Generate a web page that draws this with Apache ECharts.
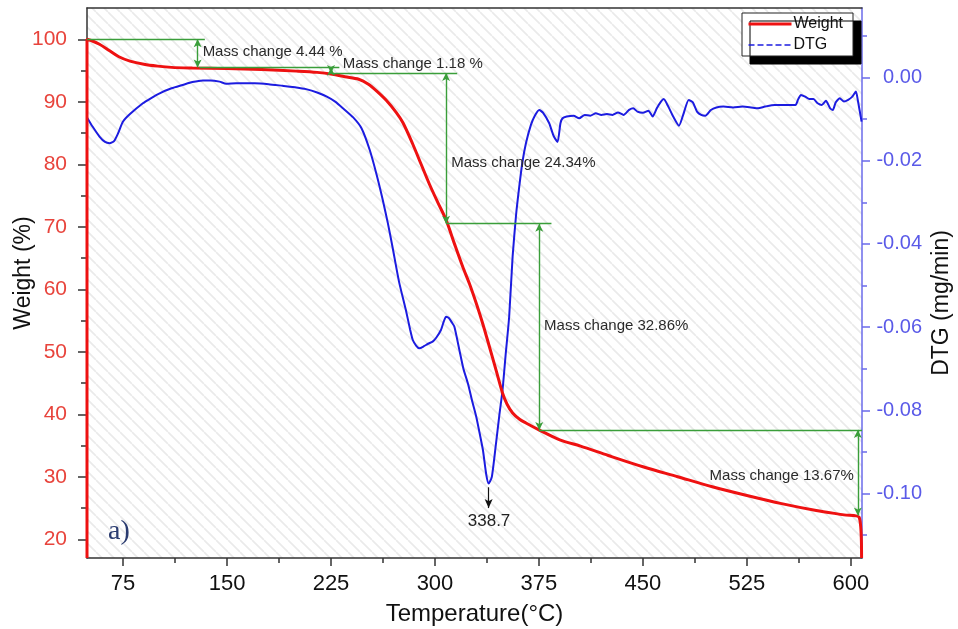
<!DOCTYPE html>
<html>
<head>
<meta charset="utf-8">
<title>TGA / DTG</title>
<script src="https://cdn.jsdelivr.net/npm/echarts@6/dist/echarts.min.js"></script>
<style>html,body{margin:0;padding:0;background:#fff;}</style>
</head>
<body>
<div id="main" style="width:958px;height:629px;"></div>
<script type="text/javascript">
// axis ticks
var tempTicks = [75, 150, 225, 300, 375, 450, 525, 600];
var tempMinor = [112.5, 187.5, 262.5, 337.5, 412.5, 487.5, 562.5];
var weightTicks = [20, 30, 40, 50, 60, 70, 80, 90, 100];
var weightMinor = [25, 35, 45, 55, 65, 75, 85, 95];
var dtgTicks = [0, -0.02, -0.04, -0.06, -0.08, -0.10];
var dtgMinor = [0.01, -0.01, -0.03, -0.05, -0.07, -0.09, -0.11];

// weight (%) vs temperature
var weightData = [
    [49, 17], [49, 100], [52, 99.8], [58, 99.2], [65, 98.2], [72, 97.2], [80, 96.5],
    [90, 96.0], [100, 95.7], [110, 95.5], [125, 95.4], [150, 95.3], [175, 95.15],
    [200, 94.9], [215, 94.7], [226, 94.4], [235, 94.0], [245, 93.6], [252, 92.8],
    [258, 91.7], [265, 90.2], [272, 88.3], [277, 86.6], [284, 83.2], [290, 80.0],
    [296, 76.8], [302, 73.9], [308, 71.1], [314, 67.3], [320, 63.6], [325, 60.8],
    [330, 57.6], [334.3, 54.6], [339, 51], [344, 47.1], [348.7, 43.4], [352, 41.6],
    [356, 40.2], [361, 39.2], [365.6, 38.6], [375, 37.5], [390, 35.9], [405, 34.9],
    [425, 33.4], [450, 31.6], [475, 30], [500, 28.4], [525, 27], [550, 25.7],
    [575, 24.6], [595, 23.9], [606, 23.5], [607.7, 17]
];

// DTG (mg/min) vs temperature
var dtgData = [
    [49, -0.0096], [53, -0.0118], [58, -0.0142], [62, -0.0155], [65.4, -0.0158],
    [68.5, -0.0153], [71.3, -0.0135], [75, -0.0106], [80, -0.0088], [89.3, -0.0062],
    [95, -0.0050], [101.4, -0.0038], [110, -0.0026], [118, -0.0018], [125, -0.0011],
    [132.6, -0.0007], [138, -0.0007], [144.6, -0.0010], [149.4, -0.0015], [156.6, -0.0014],
    [170, -0.0014], [180, -0.0016], [190, -0.0020], [200, -0.0024], [207, -0.0028],
    [215, -0.0036], [222, -0.0046], [228, -0.0058], [234, -0.0075], [241, -0.0096],
    [247, -0.0122], [253, -0.0175], [258, -0.0235], [262.3, -0.0294], [266, -0.0350],
    [269.5, -0.0410], [274, -0.0490], [279, -0.0559], [282, -0.0605], [284, -0.0631],
    [286.5, -0.0645], [288.7, -0.0651], [292, -0.0646], [295, -0.0640], [298.3, -0.0635],
    [301, -0.0625], [304.3, -0.0607], [306.5, -0.0585], [308, -0.0575], [310, -0.0578],
    [312, -0.0588], [314, -0.0599], [317.6, -0.0655], [320.5, -0.0700], [323.8, -0.0736],
    [327, -0.0780], [329.8, -0.0816], [332.5, -0.0860], [334.6, -0.0896], [337, -0.0955],
    [338.7, -0.0976], [341, -0.0960], [344, -0.0880], [346.3, -0.0815], [348.7, -0.0752],
    [351, -0.0665], [353.5, -0.0575], [356, -0.0430], [358.5, -0.0330], [360.8, -0.0262],
    [363, -0.0205], [365.6, -0.0158], [369.2, -0.0114], [372, -0.0092], [375.2, -0.0078],
    [378, -0.0085], [382.4, -0.0110], [385.5, -0.0140], [388.4, -0.0155], [390.5, -0.0110],
    [392, -0.0098], [395, -0.0094],
    [400, -0.0092], [404, -0.0098], [408, -0.0090], [412, -0.0092], [416, -0.0086],
    [420, -0.0090], [424, -0.0088], [428, -0.0090], [432, -0.0084], [436, -0.0090],
    [440, -0.0078], [443, -0.0074], [446, -0.0082], [450, -0.0085], [454, -0.0080],
    [457, -0.0094], [460, -0.0074], [463, -0.0058], [465, -0.0052], [468, -0.0068],
    [472, -0.0095], [476, -0.0116], [479, -0.0090], [483, -0.0054], [486, -0.0060],
    [489, -0.0082], [492, -0.0090], [495, -0.0092], [499, -0.0078], [503, -0.0072],
    [508, -0.0070], [515, -0.0072], [522, -0.0070], [528, -0.0072], [533, -0.0074],
    [538, -0.0070], [545, -0.0066], [552, -0.0066], [560, -0.0066], [562, -0.0052],
    [564, -0.0042], [567, -0.0046], [570, -0.0052], [573, -0.0052], [576, -0.0062],
    [579, -0.0066], [582, -0.0056], [585, -0.0074], [587, -0.0078], [589, -0.0060],
    [592, -0.0050], [595, -0.0058], [598, -0.0054], [601, -0.0046], [603.6, -0.0034],
    [605, -0.0055], [607.7, -0.0106]
];

// mass-change annotations (weight units)
var stepLines = [[49, 134, 100], [130, 231, 95.45], [226, 316, 94.6], [308, 384, 70.5], [375, 608, 37.5]]; // x1, x2, y
var stepArrows = [[128.8, 100, 95.5], [225, 95.45, 94.6], [308, 94.6, 70.5], [375.2, 70.5, 37.5], [605, 37.5, 23.8]]; // x, y1, y2
var stepLabels = [
    [132.4, 97.97, 'Mass change 4.44 %', 'right'],
    [233.4, 96.05, 'Mass change 1.18 %', 'right'],
    [311.7, 80.2, 'Mass change 24.34%', 'right'],
    [378.7, 54.1, 'Mass change 32.86%', 'right'],
    [602.1, 30.1, 'Mass change 13.67%', 'left']
];
var peakArrow = [338.7, -0.0985, -0.1035];
var peakLabel = [339, -0.1068, '338.7'];

// 斜线底纹
var hatch = document.createElement('canvas');
hatch.width = 12;
hatch.height = 12;
var hctx = hatch.getContext('2d');
hctx.strokeStyle = '#eaeaea';
hctx.lineWidth = 1.6;
hctx.beginPath();
[-12, 0, 12].forEach(function (k) {
    hctx.moveTo(0, k);
    hctx.lineTo(12, k + 12);
});
hctx.stroke();

var green = '#3a9e3a';
var markLines = [];
stepLines.forEach(function (s) {
    markLines.push([{coord: [s[0], s[2]], symbol: 'none'}, {coord: [s[1], s[2]], symbol: 'none'}]);
});
stepArrows.forEach(function (s) {
    markLines.push([{coord: [s[0], s[1]], symbol: 'arrow'}, {coord: [s[0], s[2]], symbol: 'arrow'}]);
});
var markPoints = stepLabels.map(function (s) {
    return {
        coord: [s[0], s[1]], symbol: 'circle', symbolSize: 0,
        label: {show: true, position: s[3], distance: 0, formatter: s[2], color: '#2a2a2a', fontSize: 15, fontFamily: 'Liberation Sans'}
    };
});

var myChart = echarts.init(document.getElementById('main'));

var axisDark = '#333';
var blueAxis = '#6b6bea';
var option = {
    animation: false,
    textStyle: {fontFamily: 'Liberation Sans, Arial, sans-serif'},
    grid: {
        left: 87, right: 96, top: 8, bottom: 71,
        outerBoundsMode: 'none',
        show: true, borderWidth: 0,
        backgroundColor: {image: hatch, repeat: 'repeat'}
    },
    legend: {
        left: 742, top: 13, orient: 'vertical',
        itemWidth: 43, itemHeight: 14, itemGap: 5,
        padding: [3, 10, 3, 5],
        backgroundColor: '#fff', borderColor: '#222', borderWidth: 1,
        shadowColor: '#000', shadowOffsetX: 8, shadowOffsetY: 8, shadowBlur: 0,
        textStyle: {fontSize: 16, color: '#111', padding: [0, 0, 0, -3]},
        itemStyle: {opacity: 0},
        data: [
            {name: 'Weight', lineStyle: {width: 3}},
            {name: 'DTG', lineStyle: {type: 'dashed', width: 1.5}}
        ]
    },
    xAxis: [{
        type: 'value', position: 'bottom', min: 49, max: 608,
        axisLine: {onZero: false, lineStyle: {color: axisDark, width: 1.5}},
        axisTick: {customValues: tempTicks, length: 8, lineStyle: {color: axisDark, width: 1.5}},
        axisLabel: {customValues: tempTicks, fontSize: 22, color: '#111', margin: 15},
        splitLine: {show: false},
        name: 'Temperature(°C)', nameLocation: 'middle', nameGap: 44, nameMoveOverlap: false,
        nameTextStyle: {fontSize: 24, color: '#111'}
    }, {
        type: 'value', position: 'bottom', min: 49, max: 608,
        axisLine: {show: false, onZero: false},
        axisTick: {customValues: tempMinor, length: 5, lineStyle: {color: axisDark, width: 1.5}},
        axisLabel: {show: false},
        splitLine: {show: false}
    }, {
        type: 'value', position: 'top', min: 49, max: 608,
        axisLine: {onZero: false, lineStyle: {color: axisDark, width: 1.5}},
        axisTick: {show: false}, axisLabel: {show: false}, splitLine: {show: false}
    }],
    yAxis: [{
        type: 'value', position: 'left', min: 17, max: 105,
        axisLine: {show: true, onZero: false, lineStyle: {color: axisDark, width: 1.5}},
        axisTick: {show: true, customValues: weightTicks, length: 9, lineStyle: {color: axisDark, width: 1.5}},
        axisLabel: {customValues: weightTicks, fontSize: 21, color: '#e8443c', margin: 20},
        splitLine: {show: false},
        name: 'Weight (%)', nameLocation: 'middle', nameGap: 52, nameRotate: 90, nameMoveOverlap: false,
        nameTextStyle: {fontSize: 23, color: '#111', padding: [0, 0, 0, 20]}
    }, {
        type: 'value', position: 'left', min: 17, max: 105,
        axisLine: {show: false, onZero: false},
        axisTick: {show: true, customValues: weightMinor, length: 6, lineStyle: {color: axisDark, width: 1.5}},
        axisLabel: {show: false}, splitLine: {show: false}
    }, {
        type: 'value', position: 'right', min: -0.1155, max: 0.0167,
        axisLine: {show: true, onZero: false, lineStyle: {color: blueAxis, width: 1.5}},
        axisTick: {show: true, customValues: dtgTicks, length: 8, lineStyle: {color: blueAxis, width: 1.5}},
        axisLabel: {
            customValues: dtgTicks, fontSize: 20, color: '#5a5ae8', margin: 60, align: 'right',
            formatter: function (v) { return (Math.abs(v) < 1e-9 ? 0 : v).toFixed(2); }
        },
        splitLine: {show: false},
        name: 'DTG (mg/min)', nameLocation: 'middle', nameGap: 68, nameRotate: 90, nameMoveOverlap: false,
        nameTextStyle: {fontSize: 23, color: '#111', padding: [0, 40, 0, 0]}
    }, {
        type: 'value', position: 'right', min: -0.1155, max: 0.0167,
        axisLine: {show: false, onZero: false},
        axisTick: {show: true, customValues: dtgMinor, length: 5, lineStyle: {color: blueAxis, width: 1.5}},
        axisLabel: {show: false}, splitLine: {show: false}
    }],
    graphic: [{
        type: 'text', left: 108, top: 518,
        style: {text: 'a)', font: '28px "Liberation Serif"', fill: '#2b3c70'}
    }],
    series: [{
        name: 'Weight', type: 'line', xAxisIndex: 0, yAxisIndex: 0,
        data: weightData, symbol: 'none', z: 3, smooth: 0.3,
        lineStyle: {color: '#ee1111', width: 3},
        itemStyle: {color: '#ee1111'},
        markLine: {
            silent: true, symbolSize: [6, 8], label: {show: false},
            lineStyle: {color: green, width: 1.4, type: 'solid'},
            emphasis: {disabled: true},
            data: markLines
        },
        markPoint: {silent: true, data: markPoints}
    }, {
        name: 'DTG', type: 'line', xAxisIndex: 0, yAxisIndex: 2,
        data: dtgData, symbol: 'none', z: 2, smooth: 0.2,
        lineStyle: {color: '#1c1ce0', width: 2},
        itemStyle: {color: '#1c1ce0'},
        markLine: {
            silent: true, symbol: ['none', 'arrow'], symbolSize: [6, 9], label: {show: false},
            lineStyle: {color: '#111', width: 1.2, type: 'solid'},
            data: [[{coord: [peakArrow[0], peakArrow[1]]}, {coord: [peakArrow[0], peakArrow[2]]}]]
        },
        markPoint: {
            silent: true,
            data: [{
                coord: [peakLabel[0], peakLabel[1]], symbol: 'circle', symbolSize: 0,
                label: {show: true, position: 'inside', formatter: peakLabel[2], color: '#222', fontSize: 17}
            }]
        }
    }]
};

myChart.setOption(option);
</script>
</body>
</html>
